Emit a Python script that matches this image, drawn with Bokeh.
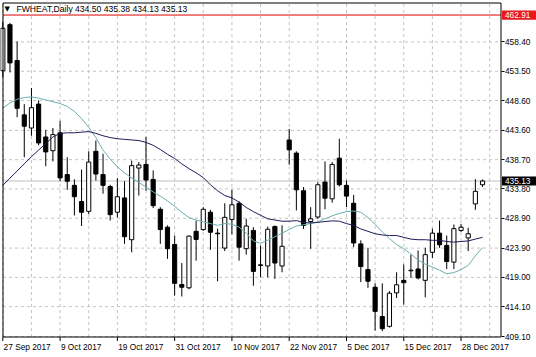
import pandas as pd
from bokeh.plotting import figure
from bokeh.models import (Range1d, FixedTicker, PrintfTickFormatter, LinearAxis,
                          Label, ColumnDataSource)
from bokeh.embed import file_html
from bokeh.resources import INLINE

# ---------------- data ----------------
dates = ["2017-09-27", "2017-09-28", "2017-09-29", "2017-10-02", "2017-10-03", "2017-10-04",
         "2017-10-05", "2017-10-06", "2017-10-09", "2017-10-10", "2017-10-11", "2017-10-12",
         "2017-10-13", "2017-10-16", "2017-10-17", "2017-10-18", "2017-10-19", "2017-10-20",
         "2017-10-23", "2017-10-24", "2017-10-25", "2017-10-26", "2017-10-27", "2017-10-30",
         "2017-10-31", "2017-11-01", "2017-11-02", "2017-11-03", "2017-11-06", "2017-11-07",
         "2017-11-08", "2017-11-09", "2017-11-10", "2017-11-13", "2017-11-14", "2017-11-15",
         "2017-11-16", "2017-11-17", "2017-11-20", "2017-11-21", "2017-11-22", "2017-11-24",
         "2017-11-27", "2017-11-28", "2017-11-29", "2017-11-30", "2017-12-01", "2017-12-04",
         "2017-12-05", "2017-12-06", "2017-12-07", "2017-12-08", "2017-12-11", "2017-12-12",
         "2017-12-13", "2017-12-14", "2017-12-15", "2017-12-18", "2017-12-19", "2017-12-20",
         "2017-12-21", "2017-12-22", "2017-12-26", "2017-12-27", "2017-12-28", "2017-12-29",
         "2018-01-02", "2018-01-03"]

opens = [453.6, 461.3, 455.3, 446.2, 444.0, 448.0, 442.5, 440.2, 443.2, 436.2,
         434.4, 431.7, 430.05, 440.1, 436.2, 434.2, 429.9, 432.3, 425.3, 437.3,
         437.9, 435.4, 430.4, 427.4, 424.5, 417.8, 417.25, 426.7, 427.0, 429.9,
         426.4, 423.9, 428.7, 431.4, 423.8, 426.85, 421.0, 420.9, 427.5, 420.9,
         442.0, 439.8, 433.5, 428.35, 429.1, 434.95, 432.15, 438.95, 434.4, 431.4,
         424.6, 420.3, 417.35, 412.45, 410.8, 416.4, 418.5, 420.1, 420.4, 418.5,
         423.2, 426.4, 424.35, 421.55, 426.85, 425.6, 431.3, 434.50]
highs = [461.8, 461.6, 458.5, 448.0, 450.7, 448.6, 443.7, 444.0, 445.2, 439.1,
         435.4, 437.05, 440.1, 441.9, 439.7, 434.5, 435.6, 435.1, 438.55, 438.3,
         442.5, 436.9, 430.75, 427.7, 426.0, 421.4, 426.0, 428.5, 430.75, 430.3,
         427.15, 431.4, 433.65, 431.75, 428.8, 427.4, 424.3, 427.5, 427.7, 427.7,
         443.85, 440.1, 434.1, 430.75, 434.95, 438.4, 438.3, 442.2, 435.2, 432.8,
         425.2, 423.95, 418.0, 418.0, 416.7, 419.85, 421.15, 422.8, 423.5, 423.95,
         427.15, 428.5, 426.0, 427.85, 427.95, 427.3, 435.45, 435.38]
lows = [452.5, 453.3, 445.8, 439.1, 442.7, 441.1, 437.6, 438.4, 435.1, 433.65,
        429.35, 427.6, 429.6, 435.2, 433.0, 428.5, 429.0, 424.6, 423.2, 432.7,
        433.5, 430.6, 424.6, 422.1, 415.95, 415.8, 417.0, 421.8, 426.8, 423.6,
        418.35, 423.4, 426.2, 421.8, 422.8, 417.6, 419.0, 419.0, 418.75, 419.85,
        437.85, 430.2, 427.1, 423.8, 428.8, 430.4, 431.5, 434.2, 430.75, 424.05,
        418.2, 417.25, 410.1, 410.0, 410.6, 415.55, 414.45, 418.9, 418.65, 415.65,
        422.25, 423.95, 420.4, 420.4, 426.6, 423.4, 430.3, 434.13]
closes = [460.7, 454.9, 447.3, 444.3, 447.4, 441.5, 440.0, 442.9, 435.65, 435.1,
          432.5, 429.9, 438.3, 436.3, 434.4, 429.5, 432.5, 425.8, 437.7, 437.8,
          435.3, 431.0, 427.0, 423.8, 418.0, 417.35, 425.9, 425.35, 430.4, 426.55,
          426.3, 429.05, 431.15, 424.05, 427.6, 420.0, 421.1, 427.05, 421.4, 424.2,
          440.35, 433.65, 427.7, 428.8, 434.5, 432.25, 437.9, 434.5, 432.6, 424.75,
          420.8, 418.35, 413.3, 410.4, 416.35, 417.75, 418.1, 420.2, 418.9, 422.8,
          426.4, 424.45, 421.65, 427.15, 427.4, 426.3, 433.4, 435.13]

ma_slow = [434.4, 435.6, 436.8, 438.0, 439.2, 440.3, 441.4, 442.5, 443.1, 443.2,
           443.2, 443.3, 443.4, 443.1, 442.7, 442.4, 442.2, 442.1, 442.0, 441.9,
           441.6, 441.1, 440.4, 439.6, 438.9, 438.0, 437.2, 436.5, 435.7, 434.5,
           433.5, 432.7, 432.3, 431.6, 430.7, 430.0, 429.4, 428.8, 428.6, 428.4,
           428.4, 428.5, 428.2, 428.1, 428.2, 428.35, 428.45, 428.4, 428.0, 427.7,
           427.1, 426.7, 426.3, 426.1, 426.0, 426.0, 425.7, 425.4, 425.3, 425.3,
           425.2, 425.2, 425.0, 424.9, 425.0, 425.1, 425.4, 425.7]
ma_fast = [447.3, 448.2, 448.8, 449.1, 449.2, 449.0, 448.7, 448.4, 448.1, 447.6,
           446.8, 445.6, 444.1, 442.4, 440.3, 438.8, 437.5, 436.5, 435.6, 434.9,
           434.1, 433.3, 432.6, 431.8, 430.9, 429.9, 429.0, 428.6, 428.3, 428.0,
           427.7, 428.0, 427.9, 427.4, 426.4, 425.1, 424.7, 425.2, 425.8, 426.4,
           427.0, 427.6, 427.8, 428.0, 428.3, 428.8, 429.3, 429.7, 430.0, 430.1,
           429.9, 429.0, 427.9, 426.6, 425.5, 424.5, 423.8, 422.9, 421.9, 421.2,
           420.7, 420.2, 419.6, 419.8, 420.3, 421.0, 422.6, 424.0]

y_ticks = [409.10, 414.10, 419.00, 423.90, 428.90, 433.80, 438.70, 443.60, 448.60, 453.50, 458.40]
level_line = 462.91
last_price = 435.13
title_text = "FWHEAT,Daily  434.50 435.38 434.13 435.13"

# ---------------- geometry (pixels of the 536x357 canvas) ----------------
CW, CH = 536, 357
BAR0_PX = 2.3
BAR_PX = 7.16
BOX_L, BOX_R, BOX_T, BOX_B = 2.5, 500.5, 2.5, 336.5
Y_REF_PX, Y_REF_V, PX_PER_UNIT = 336.0, 409.1, 5.974

def px_to_x(px):
    return (px - BAR0_PX) / BAR_PX

def py_to_y(py):
    return Y_REF_V + (Y_REF_PX - py) / PX_PER_UNIT

FONT = "Liberation Sans"
FS = 8.3

n = len(dates)
idx = list(range(n))
body_top = [max(o, c) for o, c in zip(opens, closes)]
body_bot = [min(o, c) for o, c in zip(opens, closes)]
fill = ["white" if c >= o else "black" for o, c in zip(opens, closes)]
src = ColumnDataSource(dict(x=idx, o=opens, h=highs, l=lows, c=closes,
                            top=body_top, bot=body_bot, fill=fill))

p = figure(width=CW, height=CH, output_backend="svg", toolbar_location=None,
           x_range=Range1d(px_to_x(0), px_to_x(CW)),
           y_range=Range1d(py_to_y(CH), py_to_y(0)),
           x_axis_location=None, y_axis_location=None, min_border=0)
p.background_fill_color = "white"
p.border_fill_color = "white"
p.outline_line_color = None
p.grid.visible = False

xl, xr = px_to_x(BOX_L), px_to_x(BOX_R)
yb, yt = py_to_y(BOX_B), py_to_y(BOX_T)

# dashed grid inside the chart box
grid_col = "#c4c4c4"
vg = list(range(0, n + 1, 4))
p.segment(x0=vg, x1=vg, y0=[yb] * len(vg), y1=[yt] * len(vg),
          line_color=grid_col, line_dash="3 3", line_width=1)
p.segment(x0=[xl] * len(y_ticks), x1=[xr] * len(y_ticks), y0=y_ticks, y1=y_ticks,
          line_color=grid_col, line_dash="3 3", line_width=1)

# price lines
p.segment(x0=[xl, xl], x1=[xr, xr], y0=[last_price, level_line], y1=[last_price, level_line],
          line_color=["#c0c0c0", "#e00000"], line_width=1)

# candles
p.segment(x0="x", y0="l", x1="x", y1="h", source=src, line_color="black", line_width=1)
p.vbar(x="x", width=0.58, top="top", bottom="bot", source=src,
       fill_color="fill", line_color="black", line_width=1)

# moving averages
p.line(idx, ma_fast, line_color="#6aaeb0", line_width=1)
p.line(idx, ma_slow, line_color="#1c1c5a", line_width=1)

# chart frame
p.line([xl, xr, xr, xl, xl], [yt, yt, yb, yb, yt], line_color="black", line_width=1)

# right price axis, pinned to the frame's right edge
yax = LinearAxis(ticker=FixedTicker(ticks=y_ticks), formatter=PrintfTickFormatter(format="%.2f"),
                 fixed_location=xr,
                 major_tick_out=3, major_tick_in=0, minor_tick_out=0, minor_tick_in=0,
                 major_label_standoff=1, axis_line_color=None,
                 major_label_text_font=FONT, major_label_text_font_size=f"{FS}px",
                 major_label_text_color="black")
p.add_layout(yax, "right")

# bottom date axis (labels start at their bar, MT4 style)
W = {"0": .556, "1": .556, "2": .556, "3": .556, "4": .556, "5": .556, "6": .556,
     "7": .556, "8": .556, "9": .556, " ": .278, "S": .667, "e": .556, "p": .556,
     "O": .778, "c": .5, "t": .278, "N": .722, "o": .556, "v": .5, "D": .722}
lab_idx = list(range(0, n, 8))
ticks, overrides = [], {}
for i in lab_idx:
    d = pd.Timestamp(dates[i])
    txt = f"{d.day} {d.strftime('%b')} {d.year}"
    wpx = sum(W.get(ch, .556) for ch in txt) * FS
    t = i + (wpx / 2 + 0.8) / BAR_PX
    ticks.append(t)
    overrides[t] = txt
xax = LinearAxis(ticker=FixedTicker(ticks=ticks), major_label_overrides=overrides,
                 fixed_location=yb,
                 major_tick_out=0, major_tick_in=0, minor_tick_out=0, minor_tick_in=0,
                 major_label_standoff=5, axis_line_color=None,
                 major_label_text_font=FONT, major_label_text_font_size=f"{FS}px",
                 major_label_text_color="black")
p.add_layout(xax, "below")
# small date tick marks under the frame
p.segment(x0=lab_idx, x1=lab_idx, y0=[yb] * len(lab_idx), y1=[py_to_y(340.5)] * len(lab_idx),
          line_color="black", line_width=1)

# title
p.add_layout(Label(x=px_to_x(4), y=py_to_y(4.5), text="\u25bc", text_font="DejaVu Sans",
                   text_font_size="7px", text_baseline="top", text_align="left",
                   text_color="black"))
p.add_layout(Label(x=px_to_x(16), y=py_to_y(3.5), text=title_text, text_font=FONT,
                   text_font_size="8.6px", text_baseline="top", text_align="left",
                   text_color="black"))

# price boxes on the axis
half = 4.6 / PX_PER_UNIT
for val, bg in [(level_line, "#e8191e"), (last_price, "black")]:
    p.quad(left=[px_to_x(501.5)], right=[px_to_x(CW)], top=[val + half], bottom=[val - half],
           fill_color=bg, line_color=None, level="annotation")
    p.add_layout(Label(x=px_to_x(504.5), y=val, text=f"{val:.2f}", text_font=FONT,
                       text_font_size=f"{FS}px", text_baseline="middle", text_align="left",
                       text_color="white"))

open("out.html", "w").write(file_html(p, INLINE))
